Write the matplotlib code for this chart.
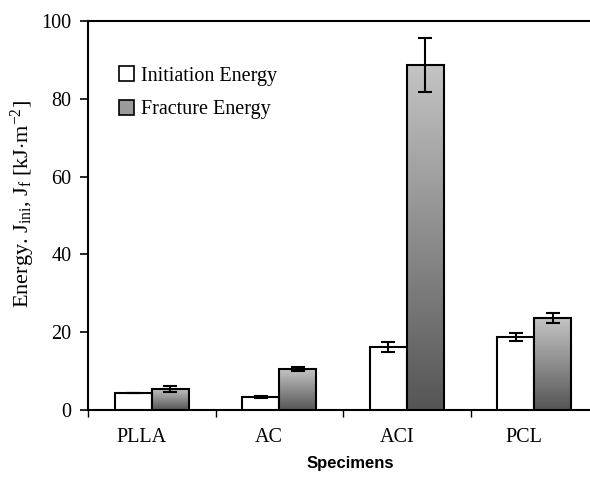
import numpy as np
import matplotlib
matplotlib.use("Agg")
import matplotlib.pyplot as plt
import matplotlib.transforms as mtransforms
from matplotlib.patches import Patch
from matplotlib.colors import LinearSegmentedColormap

specimens = ["PLLA", "AC", "ACI", "PCL"]
init_energy = [4.4, 3.4, 16.3, 18.8]
init_err = [0.0, 0.2, 1.3, 0.95]
frac_energy = [5.4, 10.5, 88.7, 23.6]
frac_err = [0.75, 0.6, 7.0, 1.3]

plt.rcParams['font.family'] = ['Liberation Serif', 'DejaVu Serif']
plt.rcParams['mathtext.fontset'] = 'custom'
plt.rcParams['mathtext.rm'] = 'Liberation Serif'
plt.rcParams['mathtext.it'] = 'Liberation Serif:italic'

fig = plt.figure(figsize=(5.9, 4.8), dpi=100)
ax = fig.add_axes([88 / 590, 70 / 480, 510 / 590, 389 / 480])

x = np.arange(len(specimens))
w = 0.29
grad_cmap = LinearSegmentedColormap.from_list("g", ["#555555", "#c4c4c4"])
grad = np.linspace(1, 0, 256).reshape(-1, 1)

ax.bar(x - w / 2, init_energy, w, color="white", edgecolor="black", linewidth=1.5, zorder=3)
ax.errorbar(x - w / 2, init_energy, yerr=init_err, fmt="none", ecolor="black",
            elinewidth=1.5, capsize=5, capthick=1.5, zorder=5)

bars = ax.bar(x + w / 2, frac_energy, w, color="none", edgecolor="black", linewidth=1.5, zorder=4)
for b in bars:
    x0, y0 = b.get_x(), b.get_y()
    im = ax.imshow(grad, cmap=grad_cmap, aspect="auto", zorder=3,
                   extent=[x0, x0 + b.get_width(), y0, y0 + b.get_height()])
    im.set_clip_path(b)
ax.errorbar(x + w / 2, frac_energy, yerr=frac_err, fmt="none", ecolor="black",
            elinewidth=1.5, capsize=5, capthick=1.5, zorder=5)

ax.set_xlim(-0.5, 3.5)
ax.set_ylim(0, 100)
ax.set_yticks(np.arange(0, 101, 20))
ax.tick_params(axis="y", labelsize=14.5, length=6, width=1.2, direction="out", pad=6)
ax.set_xticks(x)
ax.set_xticklabels(specimens, fontsize=14.5)
ax.tick_params(axis="x", length=0, pad=13)
offset = mtransforms.ScaledTranslation(-0.1, 0, fig.dpi_scale_trans)
for lab in ax.get_xticklabels():
    lab.set_transform(lab.get_transform() + offset)
ax.set_xticks([-0.5, 0.5, 1.5, 2.5], minor=True)
ax.tick_params(axis="x", which="minor", length=5, width=1, direction="out")

for s in ["left", "bottom", "top"]:
    ax.spines[s].set_linewidth(1.5)
ax.spines["right"].set_visible(False)

ax.set_ylabel("Energy. J$_{\\rm ini}$, J$_{\\rm f}$ [kJ$\\cdot$m$^{-2}$]", fontsize=16)
ax.yaxis.set_label_coords(-0.1, 0.53)
fig.text(350 / 590, 9 / 480, "Specimens", fontsize=12, fontweight="bold",
         family="Liberation Sans", ha="center", va="bottom")

handles = [Patch(facecolor="white", edgecolor="black", linewidth=1.2, label="Initiation Energy"),
           Patch(facecolor="#9a9a9a", edgecolor="black", linewidth=1.2, label="Fracture Energy")]
ax.legend(handles=handles, loc="upper left", bbox_to_anchor=(0.025, 0.93), frameon=False,
          fontsize=14.5, handlelength=0.75, handleheight=0.75, handletextpad=0.35,
          labelspacing=0.7)

fig.savefig("out.png", dpi=100)
